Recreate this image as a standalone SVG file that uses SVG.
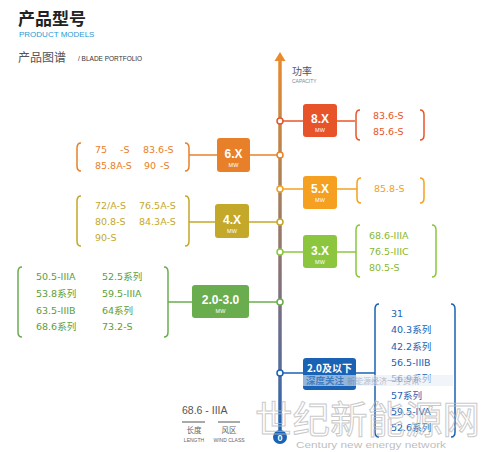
<svg xmlns="http://www.w3.org/2000/svg" width="490" height="452" viewBox="0 0 490 452">
<defs>
<linearGradient id="axisGrad" gradientUnits="userSpaceOnUse" x1="0" y1="56" x2="0" y2="436">
<stop offset="0" stop-color="#e98a2c"/>
<stop offset="0.35" stop-color="#a9805a"/>
<stop offset="0.65" stop-color="#7b6f80"/>
<stop offset="0.85" stop-color="#4e6a9e"/>
<stop offset="1" stop-color="#1a62b4"/>
</linearGradient>
<style>
text{font-family:"Liberation Sans","Noto Sans CJK SC",sans-serif}
.cn{font-family:"Noto Sans CJK SC",sans-serif}
.nl{fill:#fff;font-weight:bold;font-size:12px;text-anchor:middle}
.mw{fill:#fff;font-size:5.5px;text-anchor:middle}
.br{fill:none;stroke-width:1.5}
.ln{stroke-width:1.5;fill:none}
.dot{fill:#fff;stroke-width:1.5}
.it{font-size:9.5px;font-family:"DejaVu Sans","Noto Sans CJK SC",sans-serif}
</style>
</defs>

<g id="title">
<text x="18" y="25" font-size="17" font-weight="bold" fill="#222" class="cn">产品型号</text>
<text x="19" y="37" font-size="8" fill="#1f9ad6">PRODUCT MODELS</text>
<text x="18" y="62" font-size="12" fill="#555" class="cn">产品图谱</text>
<text x="78" y="61" font-size="6.5" fill="#333">/ BLADE PORTFOLIO</text>
</g>

<g id="axis">
<rect x="278.25" y="58" width="3.5" height="376" fill="url(#axisGrad)"/>
<polygon points="280,52 274.5,61 285.5,61" fill="#e98a2c"/>
<text x="292" y="75" font-size="10" fill="#555" class="cn">功率</text>
<text x="292" y="83" font-size="5" fill="#888">CAPACITY</text>
<circle cx="280" cy="437" r="7" fill="#1a62b4"/>
<text x="280" y="440.5" font-size="9" font-weight="bold" fill="#fff" text-anchor="middle">0</text>
</g>

<g id="connectors">
<line class="ln" x1="283" y1="121" x2="355" y2="121" stroke="#e8542a"/>
<line class="ln" x1="189" y1="155" x2="277" y2="155" stroke="#e8802a"/>
<line class="ln" x1="283" y1="189" x2="357" y2="189" stroke="#f5a020"/>
<line class="ln" x1="189" y1="222" x2="277" y2="222" stroke="#c4a82a"/>
<line class="ln" x1="283" y1="252" x2="356" y2="252" stroke="#8cc63f"/>
<line class="ln" x1="168" y1="302" x2="277" y2="302" stroke="#6aad4e"/>
<line class="ln" x1="283" y1="373" x2="375" y2="373" stroke="#1a62b4"/>
</g>

<g id="node-8x">
<circle class="dot" cx="280" cy="121" r="3" stroke="#e8542a"/>
<rect x="303" y="104" width="34" height="33" rx="3" fill="#e8542a"/>
<text class="nl" x="320" y="123">8.X</text>
<text class="mw" x="320" y="132">MW</text>
<path class="br" stroke="#e8542a" d="M360,110 Q356,110 356,115 V135 Q356,140 360,140 M420,110 Q424,110 424,115 V135 Q424,140 420,140"/>
<text class="it" fill="#e8542a" x="373" y="119">83.6-S</text>
<text class="it" fill="#e8542a" x="373" y="135">85.6-S</text>
</g>

<g id="node-6x">
<circle class="dot" cx="280" cy="155" r="3" stroke="#e8802a"/>
<rect x="217" y="138" width="33" height="34" rx="3" fill="#e8802a"/>
<text class="nl" x="233.5" y="158">6.X</text>
<text class="mw" x="233.5" y="167">MW</text>
<path class="br" stroke="#e8802a" d="M81,143 Q77,143 77,148 V166 Q77,171 81,171 M185,143 Q189,143 189,148 V166 Q189,171 185,171"/>
<text class="it" fill="#e8802a" x="95" y="153">75</text>
<text class="it" fill="#e8802a" x="120" y="153">-S</text>
<text class="it" fill="#e8802a" x="143" y="153">83.6-S</text>
<text class="it" fill="#e8802a" x="95" y="169">85.8A-S</text>
<text class="it" fill="#e8802a" x="144" y="169">90</text>
<text class="it" fill="#e8802a" x="160" y="169">-S</text>
</g>

<g id="node-5x">
<circle class="dot" cx="280" cy="189" r="3" stroke="#f5a020"/>
<rect x="303" y="176" width="34" height="33" rx="3" fill="#f5a020"/>
<text class="nl" x="320" y="193">5.X</text>
<text class="mw" x="320" y="202">MW</text>
<path class="br" stroke="#f5a020" d="M361,178 Q357,178 357,183 V198 Q357,203 361,203 M420,178 Q424,178 424,183 V198 Q424,203 420,203"/>
<text class="it" fill="#f5a020" x="374" y="192">85.8-S</text>
</g>

<g id="node-4x">
<circle class="dot" cx="280" cy="222" r="3" stroke="#c4a82a"/>
<rect x="215" y="204" width="34" height="34" rx="3" fill="#c4a82a"/>
<text class="nl" x="232" y="224">4.X</text>
<text class="mw" x="232" y="233">MW</text>
<path class="br" stroke="#c4a82a" d="M81,196 Q77,196 77,201 V241 Q77,246 81,246 M185,196 Q189,196 189,201 V241 Q189,246 185,246"/>
<text class="it" fill="#c4a82a" x="95" y="209">72/A-S</text>
<text class="it" fill="#c4a82a" x="139" y="209">76.5A-S</text>
<text class="it" fill="#c4a82a" x="95" y="225">80.8-S</text>
<text class="it" fill="#c4a82a" x="139" y="225">84.3A-S</text>
<text class="it" fill="#c4a82a" x="95" y="241">90-S</text>
</g>

<g id="node-3x">
<circle class="dot" cx="280" cy="252" r="3" stroke="#8cc63f"/>
<rect x="303" y="235" width="34" height="33" rx="3" fill="#8cc63f"/>
<text class="nl" x="320" y="255">3.X</text>
<text class="mw" x="320" y="264">MW</text>
<path class="br" stroke="#8cc63f" d="M360,225 Q356,225 356,230 V272 Q356,277 360,277 M432,225 Q436,225 436,230 V272 Q436,277 432,277"/>
<text class="it" fill="#86b832" x="369" y="239">68.6-IIIA</text>
<text class="it" fill="#86b832" x="369" y="255">76.5-IIIC</text>
<text class="it" fill="#86b832" x="369" y="271">80.5-S</text>
</g>

<g id="node-2-3">
<circle class="dot" cx="280" cy="302" r="3" stroke="#6aad4e"/>
<rect x="192" y="285" width="57" height="33" rx="3" fill="#6aad4e"/>
<text class="nl" x="220.5" y="304">2.0-3.0</text>
<text class="mw" x="220.5" y="313">MW</text>
<path class="br" stroke="#6aad4e" d="M22,267 Q18,267 18,272 V332 Q18,337 22,337 M164,267 Q168,267 168,272 V332 Q168,337 164,337"/>
<text class="it" fill="#5a9e3a" x="36" y="280">50.5-IIIA</text>
<text class="it" fill="#5a9e3a" x="102" y="280">52.5系列</text>
<text class="it" fill="#5a9e3a" x="36" y="297">53.8系列</text>
<text class="it" fill="#5a9e3a" x="102" y="297">59.5-IIIA</text>
<text class="it" fill="#5a9e3a" x="36" y="314">63.5-IIIB</text>
<text class="it" fill="#5a9e3a" x="102" y="314">64系列</text>
<text class="it" fill="#5a9e3a" x="36" y="330">68.6系列</text>
<text class="it" fill="#5a9e3a" x="102" y="330">73.2-S</text>
</g>

<g id="node-2below">
<circle class="dot" cx="280" cy="373" r="3" stroke="#1a62b4"/>
<rect x="303" y="358" width="53" height="32" rx="3" fill="#1a62b4"/>
<text x="329.5" y="372" fill="#fff" font-weight="bold" font-size="10" text-anchor="middle" class="cn">2.0及以下</text>
<path class="br" stroke="#1a62b4" d="M379,304 Q375,304 375,309 V432 Q375,437 379,437 M451,304 Q455,304 455,309 V432 Q455,437 451,437"/>
<text class="it" fill="#1a62b4" x="391" y="317">31</text>
<text class="it" fill="#1a62b4" x="391" y="333">40.3系列</text>
<text class="it" fill="#1a62b4" x="391" y="350">42.2系列</text>
<text class="it" fill="#1a62b4" x="391" y="366">56.5-IIIB</text>
<text class="it" fill="#1a62b4" x="391" y="382">56.9系列</text>
<text class="it" fill="#1a62b4" x="391" y="399">57系列</text>
<text class="it" fill="#1a62b4" x="391" y="415">59.5-IVA</text>
<text class="it" fill="#1a62b4" x="391" y="431">52.6系列</text>
</g>

<g id="legend">
<text x="182" y="414" font-size="10.5" fill="#555">68.6 - IIIA</text>
<line x1="182" y1="422" x2="205" y2="422" stroke="#555" stroke-width="1"/>
<line x1="218" y1="422" x2="240" y2="422" stroke="#555" stroke-width="1"/>
<text x="194" y="433" font-size="7.5" fill="#666" text-anchor="middle" class="cn">长度</text>
<text x="229" y="433" font-size="7.5" fill="#666" text-anchor="middle" class="cn">风区</text>
<text x="194" y="442" font-size="5" fill="#666" text-anchor="middle">LENGTH</text>
<text x="229" y="442" font-size="5" fill="#666" text-anchor="middle">WIND CLASS</text>
</g>

<g id="watermark" opacity="0.75">
<rect x="303" y="375" width="150" height="11" fill="#e8eef6" opacity="0.8"/>
<text x="306" y="384" font-size="9.5" font-weight="bold" fill="#4a86c6" class="cn">深度关注</text>
<text x="347" y="384" font-size="8" fill="#9aa6b6" class="cn">新能源经济一手资讯</text>
<text x="255" y="433" font-size="38" fill="none" stroke="#b8b8b8" stroke-width="1" class="cn" textLength="225" lengthAdjust="spacingAndGlyphs">世纪新能源网</text>
<text x="296" y="448" font-size="9.5" fill="#aaa" font-family="Liberation Serif, serif" textLength="150" lengthAdjust="spacingAndGlyphs">Century new energy network</text>
</g>
</svg>
